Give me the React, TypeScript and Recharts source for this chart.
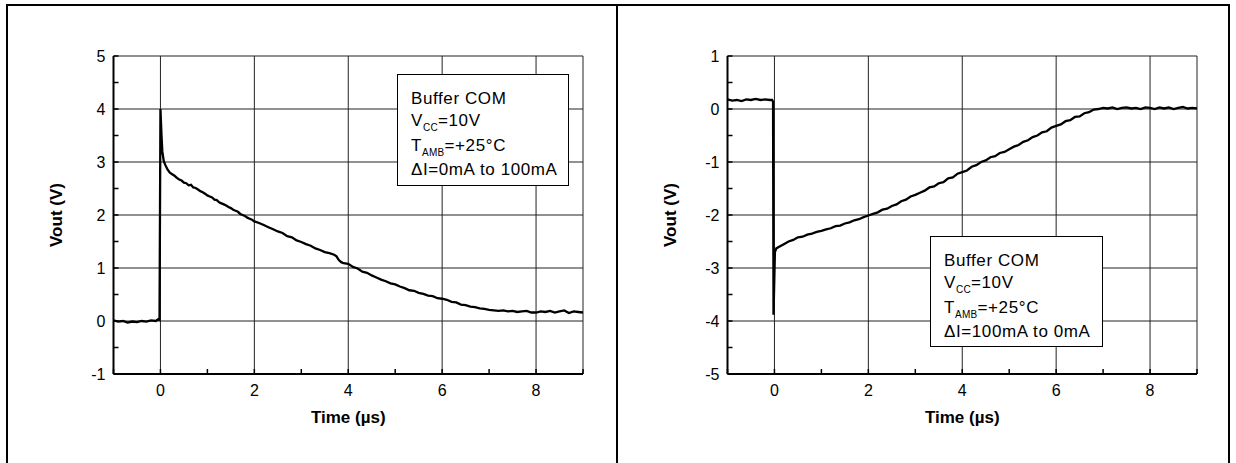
import React from 'react';
import { LineChart, Line, XAxis, YAxis, CartesianGrid } from 'recharts';

// time (µs) and Vout (V)
const stepUpTime = [
  -1.0, -0.9, -0.8, -0.7, -0.6, -0.5, -0.4, -0.3, -0.2, -0.1, -0.05, -0.02,
  0.0, 0.02, 0.04, 0.07, 0.1, 0.15, 0.2, 0.25, 0.3, 0.35, 0.4, 0.45, 0.5, 0.55, 0.6, 0.65, 0.7, 0.75, 0.8, 0.85, 0.9, 0.95,
  1.0, 1.05, 1.1, 1.15, 1.2, 1.25, 1.3, 1.35, 1.4, 1.45, 1.5, 1.55, 1.6, 1.65, 1.7, 1.75, 1.8, 1.85, 1.9, 1.95,
  2.0, 2.1, 2.2, 2.3, 2.4, 2.5, 2.6, 2.7, 2.8, 2.9, 3.0, 3.1, 3.2, 3.3, 3.4, 3.5, 3.6, 3.7, 3.75, 3.8, 3.85, 3.9,
  4.0, 4.1, 4.2, 4.3, 4.4, 4.5, 4.6, 4.7, 4.8, 4.9, 5.0, 5.1, 5.2, 5.3, 5.4, 5.5, 5.6, 5.7, 5.8, 5.9,
  6.0, 6.1, 6.2, 6.3, 6.4, 6.5, 6.6, 6.7, 6.8, 6.9, 7.0, 7.1, 7.2, 7.3, 7.4, 7.5, 7.6, 7.7, 7.8, 7.9,
  8.0, 8.1, 8.2, 8.3, 8.4, 8.5, 8.6, 8.7, 8.8, 8.9, 9.0,
];
const stepUpVout = [
  0.01, -0.01, 0.0, -0.03, -0.01, -0.02, 0.0, -0.01, 0.01, 0.0, 0.03, 0.02,
  4.0, 3.55, 3.2, 3.02, 2.95, 2.86, 2.8, 2.77, 2.74, 2.7, 2.67, 2.65, 2.61, 2.6, 2.56, 2.57, 2.52, 2.51, 2.48, 2.45, 2.43, 2.4,
  2.37, 2.35, 2.33, 2.29, 2.28, 2.24, 2.22, 2.2, 2.18, 2.15, 2.13, 2.1, 2.08, 2.06, 2.02, 2.0, 1.98, 1.95, 1.93, 1.91,
  1.88, 1.85, 1.81, 1.77, 1.73, 1.69, 1.66, 1.6, 1.58, 1.52, 1.49, 1.45, 1.42, 1.37, 1.34, 1.3, 1.28, 1.25, 1.22, 1.15, 1.11, 1.09,
  1.08, 1.02, 0.99, 0.93, 0.91, 0.86, 0.82, 0.78, 0.75, 0.71, 0.69, 0.65, 0.62, 0.58, 0.57, 0.53, 0.51, 0.48, 0.47, 0.43,
  0.42, 0.4, 0.36, 0.35, 0.31, 0.3, 0.27, 0.26, 0.24, 0.23, 0.21, 0.2, 0.19, 0.2, 0.18, 0.19, 0.17, 0.18, 0.19, 0.16,
  0.16, 0.18, 0.17, 0.19, 0.16, 0.18, 0.2, 0.15, 0.18, 0.17, 0.16,
];

const stepDownTime = [
  -1.0, -0.9, -0.8, -0.7, -0.6, -0.5, -0.4, -0.3, -0.2, -0.1, -0.05, -0.03, -0.02,
  0.01, 0.04, 0.1, 0.2, 0.3, 0.4, 0.5, 0.6, 0.7, 0.8, 0.9,
  1.0, 1.1, 1.2, 1.3, 1.4, 1.5, 1.6, 1.7, 1.8, 1.9, 2.0, 2.1, 2.2, 2.3, 2.4, 2.5, 2.6, 2.7, 2.8, 2.9,
  3.0, 3.1, 3.2, 3.3, 3.4, 3.5, 3.6, 3.7, 3.8, 3.9, 4.0, 4.1, 4.2, 4.3, 4.4, 4.5, 4.6, 4.7, 4.8, 4.9,
  5.0, 5.1, 5.2, 5.3, 5.4, 5.5, 5.6, 5.7, 5.8, 5.9, 6.0, 6.1, 6.2, 6.3, 6.4, 6.5, 6.6, 6.7, 6.8, 6.9,
  7.0, 7.1, 7.2, 7.3, 7.4, 7.5, 7.6, 7.7, 7.8, 7.9, 8.0, 8.1, 8.2, 8.3, 8.4, 8.5, 8.6, 8.7, 8.8, 8.9, 9.0,
];
const stepDownVout = [
  0.18, 0.16, 0.17, 0.15, 0.18, 0.17, 0.19, 0.17, 0.18, 0.17, 0.17, 0.14, -3.88,
  -2.7, -2.63, -2.6, -2.55, -2.5, -2.47, -2.42, -2.41, -2.37, -2.35, -2.32,
  -2.3, -2.27, -2.25, -2.21, -2.2, -2.16, -2.14, -2.1, -2.08, -2.04, -2.01, -1.98, -1.95, -1.9, -1.88, -1.83, -1.8, -1.74, -1.71, -1.65,
  -1.62, -1.58, -1.54, -1.48, -1.46, -1.4, -1.38, -1.31, -1.29, -1.22, -1.19, -1.16, -1.09, -1.06, -1.0, -0.97, -0.91, -0.89, -0.83, -0.81,
  -0.76, -0.71, -0.68, -0.62, -0.59, -0.53, -0.5, -0.44, -0.42, -0.35, -0.32, -0.29, -0.23, -0.21, -0.15, -0.14, -0.08, -0.06, -0.01, 0.0,
  0.02, 0.01, 0.03, 0.0, 0.02, 0.03, 0.01, 0.02, 0.0, 0.03, 0.02, 0.0, 0.03, 0.01, 0.03, 0.0, 0.02, 0.04, 0.01, 0.02, 0.01,
];

const timeTicks = [-1, 0, 1, 2, 3, 4, 5, 6, 7, 8, 9];
const timeGrid = [-1, 0, 2, 4, 6, 8, 9];
const voutTicksUp = [-1, -0.5, 0, 0.5, 1, 1.5, 2, 2.5, 3, 3.5, 4, 4.5, 5];
const voutGridUp = [-1, 0, 1, 2, 3, 4, 5];
const voutTicksDown = [-5, -4.5, -4, -3.5, -3, -2.5, -2, -1.5, -1, -0.5, 0, 0.5, 1];
const voutGridDown = [-5, -4, -3, -2, -1, 0, 1];

const noteUp = ['Buffer COM', 'V|CC|=10V', 'T|AMB|=+25°C', 'ΔI=0mA to 100mA'];
const noteDown = ['Buffer COM', 'V|CC|=10V', 'T|AMB|=+25°C', 'ΔI=100mA to 0mA'];

const FONT = '"Liberation Sans", Arial, sans-serif';
const PLOT_TOP = 56;
const PLOT_BOTTOM = 374;
const PLOT_LEFT = 113.5;
const PLOT_RIGHT = 583;
const W = 620;
const H = 463;

const toRows = (t: number[], v: number[]) => t.map((x, i) => ({ t: x, v: v[i] }));

const fmtTime = (v: number) => (v >= 0 && v <= 8 && v % 2 === 0 ? String(v) : '');
const fmtVout = (v: number) => (Number.isInteger(v) ? String(v) : '');

// ticks point into the plot, like the scope printout
const TimeTick = (props: any) => {
  const { x, payload } = props;
  const label = fmtTime(payload.value);
  return (
    <g>
      <line x1={x} x2={x} y1={PLOT_BOTTOM} y2={PLOT_BOTTOM - 5} stroke="#000" strokeWidth={1.5} />
      {label && (
        <text x={x} y={PLOT_BOTTOM + 22} textAnchor="middle" fill="#000" fontSize={16} fontFamily={FONT}>
          {label}
        </text>
      )}
    </g>
  );
};

const VoutTick = (props: any) => {
  const { y, payload } = props;
  const label = fmtVout(payload.value);
  return (
    <g>
      <line x1={PLOT_LEFT} x2={PLOT_LEFT + 5} y1={y} y2={y} stroke="#000" strokeWidth={1.5} />
      {label && (
        <text x={PLOT_LEFT - 8} y={y + 5.5} textAnchor="end" fill="#000" fontSize={16} fontFamily={FONT}>
          {label}
        </text>
      )}
    </g>
  );
};

const Note = ({ lines, style }: { lines: string[]; style: React.CSSProperties }) => (
  <div
    style={{
      position: 'absolute',
      background: '#fff',
      border: '1px solid #000',
      boxSizing: 'border-box',
      padding: '13px 0 0 13px',
      fontFamily: FONT,
      fontSize: 17,
      lineHeight: '22.3px',
      letterSpacing: 0.6,
      color: '#000',
      ...style,
    }}
  >
    {lines.map((ln) => {
      const [a, sub, b] = ln.split('|');
      return (
        <div key={ln} style={{ whiteSpace: 'nowrap' }}>
          {a}
          {sub !== undefined && (
            <span style={{ fontSize: 10, position: 'relative', top: 5, letterSpacing: 0.3 }}>{sub}</span>
          )}
          {b}
        </div>
      );
    })}
  </div>
);

interface PanelProps {
  left: number;
  time: number[];
  vout: number[];
  yDomain: [number, number];
  yTicks: number[];
  yGrid: number[];
}

const Panel: React.FC<PanelProps> = ({ left, time, vout, yDomain, yTicks, yGrid }) => (
  <div style={{ position: 'absolute', left, top: 0, width: W, height: H }}>
    <LineChart
      width={W}
      height={H}
      data={toRows(time, vout)}
      margin={{ top: PLOT_TOP, right: W - PLOT_RIGHT, bottom: 0, left: 0 }}
    >
      <CartesianGrid stroke="#222" strokeWidth={1} horizontalValues={yGrid} verticalValues={timeGrid} />
      <XAxis
        dataKey="t"
        type="number"
        domain={[-1, 9]}
        allowDataOverflow
        ticks={timeTicks}
        interval={0}
        tickLine={false}
        tickSize={0}
        tick={TimeTick}
        height={H - PLOT_BOTTOM}
        stroke="#000"
        strokeWidth={2}
      />
      <XAxis xAxisId="top" orientation="top" type="number" domain={[-1, 9]} height={0} tick={false} tickLine={false} stroke="#000" strokeWidth={1.5} />
      <YAxis
        type="number"
        domain={yDomain}
        allowDataOverflow
        ticks={yTicks}
        interval={0}
        tickLine={false}
        tickSize={0}
        tick={VoutTick}
        width={PLOT_LEFT}
        stroke="#000"
        strokeWidth={2}
      />
      <YAxis yAxisId="right" orientation="right" type="number" domain={yDomain} width={0} tick={false} tickLine={false} stroke="#000" strokeWidth={1.5} />
      <Line type="linear" dataKey="v" stroke="#000" strokeWidth={2.3} dot={false} isAnimationActive={false} />
    </LineChart>
    <div
      style={{
        position: 'absolute',
        left: 57 - 60,
        top: 215 - 11,
        width: 120,
        textAlign: 'center',
        transform: 'rotate(-90deg)',
        fontFamily: FONT,
        fontWeight: 'bold',
        fontSize: 17,
        lineHeight: '22px',
      }}
    >
      Vout (V)
    </div>
    <div
      style={{
        position: 'absolute',
        left: PLOT_LEFT,
        width: PLOT_RIGHT - PLOT_LEFT,
        top: 407,
        textAlign: 'center',
        fontFamily: FONT,
        fontWeight: 'bold',
        fontSize: 17,
        lineHeight: '22px',
      }}
    >
      Time (µs)
    </div>
  </div>
);

export default function App() {
  return (
    <div style={{ position: 'absolute', left: 0, top: 0, width: 1236, height: H, overflow: 'hidden', background: '#fff' }}>
      <Panel left={0} time={stepUpTime} vout={stepUpVout} yDomain={[-1, 5]} yTicks={voutTicksUp} yGrid={voutGridUp} />
      <Panel left={614} time={stepDownTime} vout={stepDownVout} yDomain={[-5, 1]} yTicks={voutTicksDown} yGrid={voutGridDown} />
      <Note lines={noteUp} style={{ left: 397, top: 74, width: 172, height: 112 }} />
      <Note lines={noteDown} style={{ left: 930, top: 236, width: 173, height: 111 }} />
      <div style={{ position: 'absolute', left: 6, top: 4, width: 1224, height: 470, border: '2px solid #000', boxSizing: 'border-box' }} />
      <div style={{ position: 'absolute', left: 616, top: 4, width: 2, height: 470, background: '#000' }} />
    </div>
  );
}
